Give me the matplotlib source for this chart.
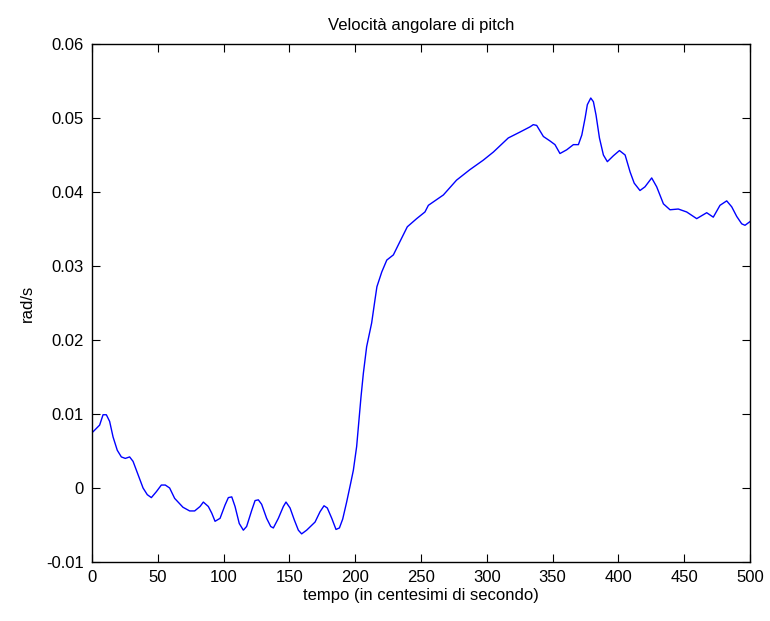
import matplotlib
matplotlib.use("Agg")
import matplotlib.pyplot as plt

t = [0, 0.8, 5.8, 8.4, 10.9, 13.4, 16, 19.2, 22.3, 25.3, 28.6, 31.2, 35, 38.8, 42, 45.1, 48.9,
     52.7, 55.7, 59, 62.8, 69.1, 74.2, 78, 82.1, 84.6, 88.4, 91, 93.5, 97.3, 101.1, 103.6,
     106.2, 108.7, 111.9, 115, 117.5, 121.4, 123.9, 126.4, 128.9, 132.7, 135.8, 137.8, 141.6,
     145.4, 147.4, 150.5, 153.7, 156.8, 159.3, 163.1, 169.5, 173.3, 176.3, 178.8, 182.2, 185.4,
     188, 190.5, 193.5, 196.5, 198.6, 201.1, 204.4, 206.2, 208.7, 212.5, 215, 216.5, 220.2,
     224, 229, 234, 239.6, 246.7, 253, 255.6, 267, 277, 287, 297.3, 305, 316.3, 325.2, 332.8,
     335.3, 337.9, 343, 348, 351.8, 355.6, 360.7, 365.8, 369.6, 372.2, 374.7, 376.4, 379, 381,
     383, 385.6, 388.6, 391.6, 396.2, 400.8, 405.1, 408.9, 412, 416.4, 420.2, 425.3, 429.1,
     434.2, 439.2, 445.5, 451.9, 459.5, 467.1, 472.1, 477.2, 482.3, 486.1, 489.9, 493.7,
     496.2, 500]
v = [0.0075, 0.0076, 0.0085, 0.0099, 0.0099, 0.0090, 0.0069, 0.0051, 0.0042, 0.0040, 0.0042,
     0.0036, 0.0018, 0.0000, -0.0009, -0.0013, -0.0005, 0.0004, 0.0004, 0.0000, -0.0014,
     -0.0026, -0.0031, -0.0031, -0.0025, -0.0019, -0.0025, -0.0034, -0.0045, -0.0041, -0.0023,
     -0.0013, -0.0012, -0.0025, -0.0048, -0.0057, -0.0052, -0.0030, -0.0017, -0.0016, -0.0022,
     -0.0041, -0.0052, -0.0054, -0.0041, -0.0025, -0.0019, -0.0027, -0.0043, -0.0057, -0.0062,
     -0.0057, -0.0046, -0.0032, -0.0024, -0.0027, -0.0041, -0.0056, -0.0054, -0.0042, -0.0019,
     0.0006, 0.0024, 0.0056, 0.0123, 0.0155, 0.0191, 0.0223, 0.0254, 0.0272, 0.0292, 0.0308,
     0.0315, 0.0333, 0.0353, 0.0364, 0.0373, 0.0382, 0.0396, 0.0416, 0.0430, 0.0443, 0.0454,
     0.0473, 0.0481, 0.0488, 0.0491, 0.0490, 0.0475, 0.0469, 0.0464, 0.0452, 0.0457, 0.0464,
     0.0464, 0.0477, 0.0500, 0.0518, 0.0527, 0.0522, 0.0504, 0.0473, 0.0450, 0.0441, 0.0449,
     0.0456, 0.0450, 0.0427, 0.0412, 0.0402, 0.0407, 0.0419, 0.0407, 0.0384, 0.0376, 0.0377,
     0.0373, 0.0364, 0.0372, 0.0366, 0.0382, 0.0388, 0.0380, 0.0367, 0.0357, 0.0355, 0.0360]

xticks = [0, 50, 100, 150, 200, 250, 300, 350, 400, 450, 500]
yticks = [-0.01, 0, 0.01, 0.02, 0.03, 0.04, 0.05, 0.06]
ytick_labels = ["-0.01", "0", "0.01", "0.02", "0.03", "0.04", "0.05", "0.06"]

plt.rcParams['font.family'] = ['Liberation Sans', 'DejaVu Sans']
fig = plt.figure(figsize=(7.7, 6.21), dpi=100)
ax = fig.add_axes([92/770, 59/621, 658/770, 518/621])
ax.plot(t, v, color='#0000ff', lw=1.0, solid_joinstyle='round')
ax.set_xlim(0, 500)
ax.set_ylim(-0.01, 0.06)
ax.set_xticks(xticks)
ax.set_yticks(yticks)
ax.set_yticklabels(ytick_labels)
ax.tick_params(direction='in', top=True, right=True, length=6, labelsize=12, pad=6)
for s in ax.spines.values():
    s.set_linewidth(1.0)
ax.set_title("Velocità angolare di pitch", fontsize=12, pad=10)
ax.set_xlabel("tempo (in centesimi di secondo)", fontsize=12, labelpad=2)
ax.set_ylabel("rad/s", fontsize=12, labelpad=8)
fig.savefig("out.png", dpi=100)
